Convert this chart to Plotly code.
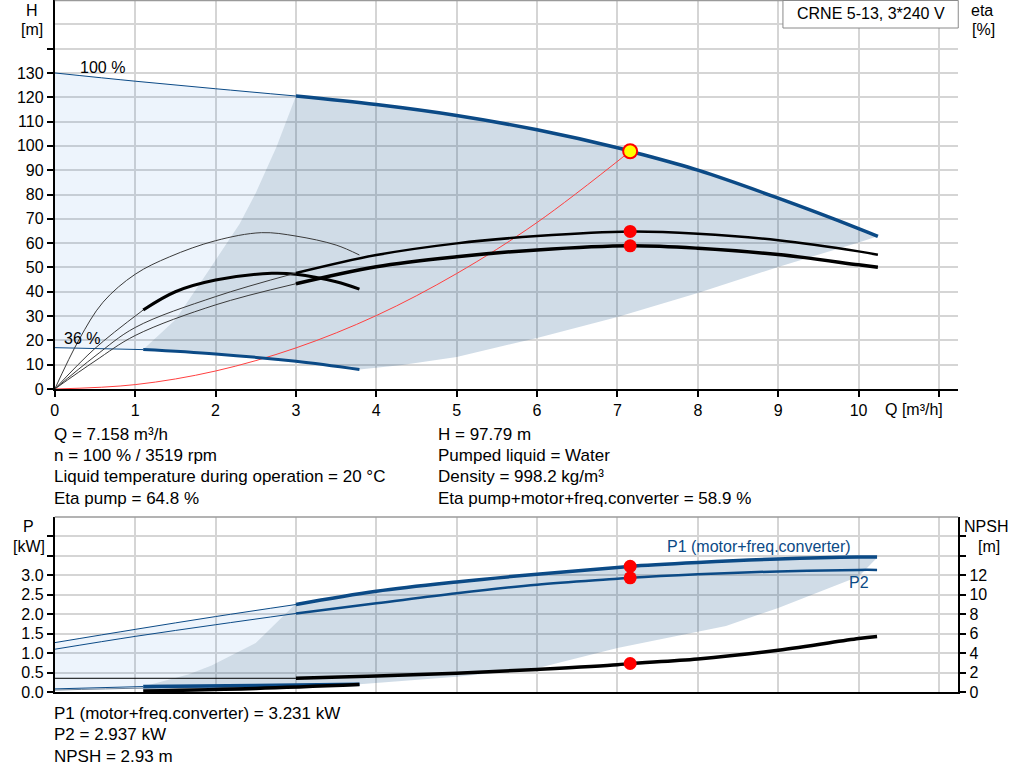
import plotly.graph_objects as go

W, H = 1024, 781
PAGE_H = 790  # the browser photo squeezes the page height to 781

# --- pump curve data ---
# head, 100 % speed
q_h100_thin = [0, 1, 2, 3]
h100_thin = [130, 126.6, 123.5, 120.5]
q_h100 = [3, 4, 5, 6, 7, 7.158, 8, 9, 10, 10.24]
h100 = [120.5, 117.0, 112.5, 106.6, 99.2, 97.79, 90.0, 78.5, 66.0, 62.8]

# head, 36 % speed
q_h36_thin = [0, 1.1]
h36_thin = [17.0, 16.2]
q_h36 = [1.1, 2, 3, 3.79]
h36 = [16.2, 14.4, 11.4, 8.0]

# efficiency, 100 % speed
q_eta_thin = [0, 0.5, 1, 2, 3]
eta_pump_thin = [0, 13.5, 25.3, 38.0, 47.7]
eta_tot_thin = [0, 11.5, 22.0, 34.6, 43.3]
q_eta = [3, 4, 5, 6, 7.158, 8, 9, 10, 10.24]
eta_pump = [47.7, 55.1, 59.9, 62.9, 64.8, 63.9, 61.2, 56.6, 55.2]
eta_tot = [43.3, 50.3, 54.4, 57.2, 58.9, 57.9, 55.3, 51.1, 50.1]

# efficiency, 36 % speed
q_eta36_pump = [0, 0.3, 0.6, 1, 1.43, 2, 2.57, 3, 3.5, 3.79]
eta36_pump = [0, 20.2, 35.7, 47.2, 54.4, 61.0, 64.3, 62.9, 59.2, 55.1]
q_eta36_tot_thin = [0, 0.5, 1.1]
eta36_tot_thin = [0, 16.7, 32.5]
q_eta36_tot = [1.1, 1.5, 2, 2.7, 3, 3.5, 3.79]
eta36_tot = [32.5, 40.0, 44.8, 47.6, 47.2, 44.1, 41.1]

# system curve
q_sys = [0, 1, 2, 3, 4, 5, 6, 7.158]
h_sys = [0, 1.8, 7.4, 16.9, 30.2, 47.5, 68.5, 97.79]

# operating range (H chart)
q_rng_left = [1.1, 1.5, 1.9, 2.3, 2.5, 2.76, 3.0]
h_rng_left = [16.2, 28.5, 48.0, 68.0, 80.6, 99.7, 120.5]
q_rng_low = [3.79, 4.32, 5, 6, 7, 8, 9, 10, 10.24]
h_rng_low = [8.0, 9.9, 13.2, 21.0, 29.6, 39.5, 50.2, 60.3, 62.8]

# power, 100 % speed
q_p_thin = [0, 1, 2, 3]
p1_thin = [1.27, 1.61, 1.94, 2.25]
p2_thin = [1.10, 1.43, 1.73, 2.02]
q_p = [3, 4, 5, 6, 7, 7.158, 8, 9, 10, 10.23]
p1 = [2.25, 2.59, 2.83, 3.03, 3.20, 3.231, 3.33, 3.42, 3.47, 3.47]
p2 = [2.02, 2.28, 2.54, 2.76, 2.91, 2.937, 3.03, 3.10, 3.14, 3.14]

# power, 36 % speed
q_p36_thin = [0, 1.1]
p1_36_thin = [0.08, 0.14]
q_p36 = [1.1, 2.5, 3.79]
p1_36 = [0.14, 0.17, 0.20]
q_p2_36 = [0, 1.1, 2.5, 3.79]
p2_36 = [0.05, 0.10, 0.14, 0.18]

# NPSH
q_npsh_thin = [0, 3]
npsh_thin = [1.41, 1.41]
q_npsh = [3, 4, 5, 6, 7, 7.158, 8, 9, 10, 10.23]
npsh = [1.41, 1.64, 1.92, 2.32, 2.80, 2.93, 3.40, 4.30, 5.50, 5.72]
q_npsh36 = [1.1, 2.5, 3.79]
npsh36 = [0.10, 0.36, 0.76]

# operating range (P chart)
q_prng_left = [1.1, 1.66, 1.95, 2.5, 2.96, 3.0]
p_rng_left = [0.14, 0.45, 0.68, 1.26, 2.19, 2.25]
q_prng_low = [3.79, 4, 5, 6, 7, 8.35, 9, 10, 10.23]
p_rng_low = [0.20, 0.22, 0.39, 0.61, 1.13, 1.70, 2.16, 2.97, 3.45]
q_prng_bot = [1.1, 2.5, 3.79]
p_rng_bot = [0.03, 0.10, 0.20]

# duty point
q_duty = 7.158
h_duty = 97.79
eta_pump_duty = 64.8
eta_tot_duty = 58.9
p1_duty = 3.231
p2_duty = 2.937
npsh_duty = 2.93

info_left = ["Q = 7.158 m³/h", "n = 100 % / 3519 rpm",
             "Liquid temperature during operation = 20 °C", "Eta pump = 64.8 %"]
info_right = ["H = 97.79 m", "Pumped liquid = Water",
              "Density = 998.2 kg/m³", "Eta pump+motor+freq.converter = 58.9 %"]
info_bottom = ["P1 (motor+freq.converter) = 3.231 kW", "P2 = 2.937 kW", "NPSH = 2.93 m"]

BLUE = "#0B4A86"
BLACK = "#000000"
THIN = "#3a3a3a"
LIGHT_FILL = "rgba(12,112,212,0.075)"
DARK_FILL = "rgba(20,80,135,0.2)"
FONT = "Arial, Liberation Sans, sans-serif"


def px(x):
    return x / W


def py(y):
    return 1 - y / H


fig = go.Figure()


def line(x, y, color, width, xa="x", ya="y", shape="spline"):
    fig.add_trace(go.Scatter(x=x, y=y, mode="lines", xaxis=xa, yaxis=ya,
                             line=dict(color=color, width=width, shape=shape),
                             hoverinfo="skip", showlegend=False))


def area(x, y, color, xa="x", ya="y"):
    fig.add_trace(go.Scatter(x=x, y=y, mode="lines", fill="toself", fillcolor=color,
                             xaxis=xa, yaxis=ya, line=dict(width=0),
                             hoverinfo="skip", showlegend=False))


# --- H chart areas ---
area(q_h100_thin + q_rng_left[::-1] + q_h36_thin[::-1],
     h100_thin + h_rng_left[::-1] + h36_thin[::-1], LIGHT_FILL)
area(q_h100 + q_rng_low[::-1] + q_h36[::-1] + q_rng_left,
     h100 + h_rng_low[::-1] + h36[::-1] + h_rng_left, DARK_FILL)

# --- H chart curves ---
line(q_sys, h_sys, "#FF4040", 1)
line(q_h100_thin, h100_thin, BLUE, 1)
line(q_h100, h100, BLUE, 3.5)
line(q_h36_thin, h36_thin, BLUE, 1)
line(q_h36, h36, BLUE, 3)
line(q_eta36_pump, eta36_pump, THIN, 1)
line(q_eta36_tot_thin, eta36_tot_thin, THIN, 1)
line(q_eta36_tot, eta36_tot, BLACK, 3)
line(q_eta_thin, eta_pump_thin, THIN, 1)
line(q_eta_thin, eta_tot_thin, THIN, 1)
line(q_eta, eta_pump, BLACK, 2.5)
line(q_eta, eta_tot, BLACK, 3.5)

fig.add_trace(go.Scatter(x=[q_duty, q_duty], y=[eta_pump_duty, eta_tot_duty], mode="markers",
                         marker=dict(color="#FF0000", size=13), hoverinfo="skip", showlegend=False))
fig.add_trace(go.Scatter(x=[q_duty], y=[h_duty], mode="markers",
                         marker=dict(color="#FFFF00", size=14, line=dict(color="#FF0000", width=2)),
                         hoverinfo="skip", showlegend=False))

# --- P chart areas ---
area(q_p_thin + q_prng_left[::-1] + q_p36_thin[::-1],
     p1_thin + p_rng_left[::-1] + p1_36_thin[::-1], LIGHT_FILL, "x2", "y3")
area(q_p + q_prng_low[::-1] + q_prng_bot[::-1] + q_prng_left,
     p1 + p_rng_low[::-1] + p_rng_bot[::-1] + p_rng_left, DARK_FILL, "x2", "y3")

# --- P chart curves ---
line(q_p_thin, p1_thin, BLUE, 1, "x2", "y3")
line(q_p_thin, p2_thin, BLUE, 1, "x2", "y3")
line(q_p, p1, BLUE, 3.5, "x2", "y3")
line(q_p, p2, BLUE, 2.5, "x2", "y3")
line(q_p2_36, p2_36, "#6a7f96", 1, "x2", "y3")
line(q_p36_thin, p1_36_thin, BLUE, 1, "x2", "y3")
line(q_p36, p1_36, BLUE, 3.5, "x2", "y3")
line(q_npsh_thin, npsh_thin, BLACK, 1, "x2", "y4")
line(q_npsh, npsh, BLACK, 3.5, "x2", "y4")
line(q_npsh36, npsh36, BLACK, 3.5, "x2", "y4")

fig.add_trace(go.Scatter(x=[q_duty, q_duty], y=[p1_duty, p2_duty], mode="markers",
                         xaxis="x2", yaxis="y3", marker=dict(color="#FF0000", size=13),
                         hoverinfo="skip", showlegend=False))
fig.add_trace(go.Scatter(x=[q_duty], y=[npsh_duty], mode="markers",
                         xaxis="x2", yaxis="y4", marker=dict(color="#FF0000", size=13),
                         hoverinfo="skip", showlegend=False))

# --- axes ---
xdom = [px(51), px(958)]
top_dom = [py(389), py(0)]
bot_dom = [py(692), py(517)]
grid = dict(showgrid=True, gridcolor="#D5D5D5", gridwidth=1.5, zeroline=False)
tickfont = dict(family=FONT, size=16, color="black")
axline = dict(showline=True, linecolor="black", linewidth=2)

q_ticks = list(range(0, 12))
h_ticks = list(range(0, 150, 10))
eta_ticks = list(range(0, 110, 10))
p_ticks = [0, 0.5, 1.0, 1.5, 2.0, 2.5, 3.0, 3.5, 4.0]
npsh_ticks = list(range(0, 18, 2))

fig.update_layout(
    width=W, height=PAGE_H, margin=dict(l=0, r=0, t=0, b=0),
    plot_bgcolor="white", paper_bgcolor="white", showlegend=False,
    font=dict(family=FONT, size=16, color="black"),
    xaxis=dict(domain=xdom, anchor="y", range=[0, 11.24], tickvals=q_ticks,
               ticktext=[str(v) for v in q_ticks[:-1]] + [""],
               ticks="outside", ticklen=6, tickwidth=2, tickcolor="black",
               tickfont=tickfont, **grid, **axline),
    yaxis=dict(domain=top_dom, anchor="x", range=[0, 160], tickvals=h_ticks,
               ticktext=[str(v) for v in h_ticks[:-1]] + [""],
               ticks="outside", ticklen=6, tickwidth=2, tickcolor="black",
               minor=dict(tickvals=[150, 160], showgrid=True, gridcolor="#D5D5D5",
                          gridwidth=1.5, ticks=""),
               tickfont=tickfont, **grid, **axline),
    yaxis2=dict(overlaying="y", anchor="x", side="right", range=[0, 160],
                tickvals=eta_ticks, ticks="outside", ticklen=6, tickwidth=2,
                tickcolor="black", tickfont=tickfont, showgrid=False, zeroline=False,
                **axline),
    xaxis2=dict(domain=xdom, anchor="y3", range=[0, 11.24], tickvals=q_ticks,
                showticklabels=False, ticks="", **grid, **axline),
    yaxis3=dict(domain=bot_dom, anchor="x2", range=[0, 4.5], tickvals=p_ticks,
                ticktext=["%.1f" % v for v in p_ticks[:7]] + ["", ""],
                ticks="outside", ticklen=6, tickwidth=2, tickcolor="black",
                minor=dict(tickvals=[4.5], showgrid=True, gridcolor="#D5D5D5",
                           gridwidth=1.5, ticks=""),
                tickfont=tickfont, **grid, **axline),
    yaxis4=dict(overlaying="y3", anchor="x2", side="right", range=[0, 18],
                tickvals=npsh_ticks,
                ticktext=[str(v) for v in npsh_ticks[:7]] + ["", ""],
                ticks="outside", ticklen=6, tickwidth=2, tickcolor="black",
                tickfont=tickfont, showgrid=False, zeroline=False, **axline),
)

shapes = [
    dict(type="line", xref="paper", yref="paper", x0=px(51), x1=px(958), y0=py(0.5), y1=py(0.5),
         line=dict(color="#9A9A9A", width=1.5)),
    dict(type="line", xref="paper", yref="paper", x0=px(51), x1=px(958), y0=py(517), y1=py(517),
         line=dict(color="#9A9A9A", width=1.5)),
    dict(type="rect", xref="paper", yref="paper", x0=px(782), x1=px(958), y0=py(28), y1=py(0.5),
         fillcolor="white", line=dict(color="#8A8A8A", width=1)),
]
fig.update_layout(shapes=shapes)

ann = []


def txt(text, x, y, anchor="left", color="black", size=16):
    if anchor == "left":
        x -= 5  # annotation box padding
    ann.append(dict(text=text, x=px(x), y=py(y), xref="paper", yref="paper", xanchor=anchor,
                    yanchor="middle", showarrow=False,
                    font=dict(family=FONT, size=size, color=color)))


txt("H", 28, 11, "center")
txt("[m]", 28, 30, "center")
txt("eta", 982, 11, "center")
txt("[%]", 983, 30, "center")
txt("P", 25, 526, "center")
txt("[kW]", 25, 546, "center")
txt("NPSH", 986, 526, "center")
txt("[m]", 989, 546, "center")
txt("Q [m³/h]", 887, 409)
txt("CRNE 5-13, 3*240 V", 870, 14, "center")
txt("100 %", 79, 67)
txt("36 %", 63, 338)
txt("P1 (motor+freq.converter)", 669, 546, color=BLUE)
txt("P2", 851, 582, color=BLUE)

for i, s in enumerate(info_left):
    txt(s, 53, 434 + i * 21.4, size=17)
for i, s in enumerate(info_right):
    txt(s, 439, 434 + i * 21.4, size=17)
for i, s in enumerate(info_bottom):
    txt(s, 53, 713 + i * 21.6, size=17)

fig.update_layout(annotations=ann)

# the page gets the figure flush in the top left corner
fig.write_html("out.html", config={"displayModeBar": False},
               post_script="document.body.style.margin='0';document.body.style.overflow='hidden';")
